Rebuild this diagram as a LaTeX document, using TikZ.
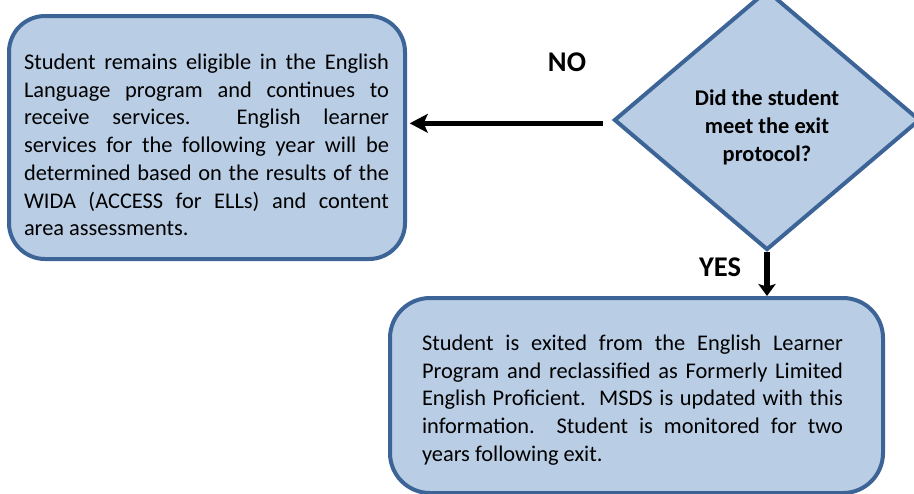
\documentclass[tikz,border=0pt]{standalone}
\usepackage{fontspec}
\setmainfont{Carlito}
\usetikzlibrary{shapes.geometric,arrows.meta}
\definecolor{boxfill}{HTML}{B9CDE5}
\definecolor{boxline}{HTML}{3C6497}
\begin{document}
\begin{tikzpicture}[x=0.75pt,y=-0.75pt,
  procbox/.style={draw=boxline,fill=boxfill,line width=3pt,rounded corners=27pt,inner sep=0pt},
  decision/.style={diamond,draw=boxline,fill=boxfill,line width=3pt,inner sep=0pt,
    minimum width=229.5pt,minimum height=195pt},
  bodytext/.style={inner sep=0pt,font=\fontsize{16.8}{20.8}\selectfont,align=justify},
  dtext/.style={inner sep=0pt,font=\fontsize{16.8}{21}\selectfont\bfseries,align=center},
  lbl/.style={inner sep=0pt,font=\fontsize{21.4}{24}\selectfont\bfseries},
  arr/.style={line width=4.1pt,-{Stealth[length=13.5pt,width=14pt,inset=3pt]}},
  arrs/.style={line width=4.1pt,-{Stealth[length=9pt,width=13pt,inset=2pt]}}]
\useasboundingbox (0,0) rectangle (914,493);
% boxes
\node[procbox,minimum width=297pt,minimum height=182.25pt] (left) at (207,137.5) {};
\node[procbox,minimum width=369.75pt,minimum height=146.25pt,rounded corners=30pt] (bot) at (636.5,395.5) {};
\node[decision] (dia) at (767,120) {};
% texts
\node[bodytext,text width=273.75pt] (lefttext) at (206.5,145) {Student remains eligible in the English\linebreak
Language program and continues to\linebreak
receive services.\ \ English learner\linebreak
services for the following year will be\linebreak
determined based on the results of the\linebreak
WIDA (ACCESS for ELLs) and content\linebreak
area assessments.};
\node[bodytext,text width=315.75pt] (bottext) at (632.5,400) {Student is exited from the English Learner\linebreak
Program and reclassified as Formerly Limited\linebreak
English Proficient.\ \ MSDS is updated with this\linebreak
information.\ \ Student is monitored for two\linebreak
years following exit.};
\node[dtext] (q) at (767,127) {Did the student\\meet the exit\\protocol?};
% connectors
\draw[arr] ([xshift=-6.75pt,yshift=-2.5pt]dia.west) -- ([xshift=2pt,yshift=-2.5pt]left.east |- dia.west);
\draw[arrs] (dia.south) -- (dia.south |- bot.north);
% labels
\node[lbl] (no) at (567,62) {NO};
\node[lbl] (yes) at (720,267) {YES};
\end{tikzpicture}
\end{document}
